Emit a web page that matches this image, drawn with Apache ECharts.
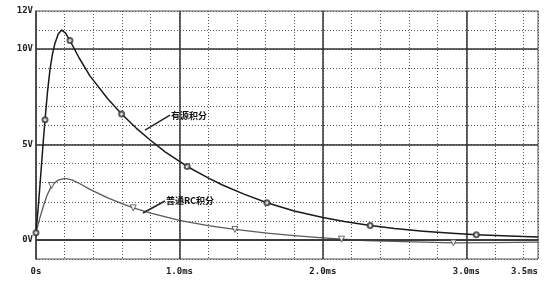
<!DOCTYPE html>
<html><head><meta charset="utf-8">
<script src="https://cdn.jsdelivr.net/npm/echarts@6/dist/echarts.min.js"></script>
<style>html,body{margin:0;padding:0;background:#fff}#c{width:548px;height:291px}</style>
</head><body><div id="c"></div>
<script>
// time in ms, voltage in V
const upperT = [0, 0.016, 0.035, 0.051, 0.063, 0.08, 0.098, 0.115, 0.132, 0.155, 0.179, 0.205, 0.237, 0.3, 0.376, 0.5, 0.597, 0.7, 0.794, 0.9, 1.054, 1.2, 1.3, 1.45, 1.61, 1.8, 2.0, 2.15, 2.33, 2.5, 2.7, 2.9, 3.07, 3.3, 3.5];
const upperV = [0.38, 1.74, 3.6, 5.2, 6.3, 7.75, 8.95, 9.75, 10.3, 10.8, 11.0, 10.85, 10.45, 9.55, 8.6, 7.4, 6.6, 5.85, 5.25, 4.62, 3.85, 3.25, 2.88, 2.4, 1.95, 1.52, 1.17, 0.96, 0.76, 0.6, 0.46, 0.35, 0.27, 0.2, 0.15];
const upperMarkIdx = [0, 4, 12, 16, 20, 24, 28, 32];

const lowerT = [0, 0.025, 0.05, 0.075, 0.109, 0.15, 0.202, 0.25, 0.3, 0.376, 0.5, 0.6, 0.678, 0.8, 1.0, 1.2, 1.387, 1.61, 1.8, 2.0, 2.13, 2.3, 2.5, 2.7, 2.91, 3.2, 3.5];
const lowerV = [0.38, 1.1, 1.74, 2.3, 2.85, 3.12, 3.23, 3.15, 2.97, 2.65, 2.2, 1.9, 1.68, 1.4, 1.02, 0.75, 0.55, 0.36, 0.23, 0.11, 0.04, -0.03, -0.08, -0.12, -0.15, -0.14, -0.12];
const lowerMarkIdx = [4, 12, 16, 20, 24];

const xTickValues = [0, 1, 2, 3, 3.5];
const xTickLabels = ['0s', '1.0ms', '2.0ms', '3.0ms', '3.5ms'];
const yTickValues = [0, 5, 10, 12];
const yTickLabels = ['0V', '5V', '10V', '12V'];
const majorX = [1, 2, 3];
const majorY = [0, 5, 10];

const upperName = '有源积分';
const lowerName = '普通RC积分';
const upperPointer = [[0.76, 5.76], [0.934, 6.54]];
const lowerPointer = [[0.746, 1.41], [0.899, 2.04]];

function lookup(vals, labs, v) {
  for (let i = 0; i < vals.length; i++) if (Math.abs(v - vals[i]) < 1e-6) return labs[i];
  return '';
}
const pair = (T, V) => T.map((t, i) => [t, V[i]]);

const fontFam = '"DejaVu Sans Mono", monospace';
const chart = echarts.init(document.getElementById('c'), null, {renderer: 'canvas'});
chart.setOption({
  animation: false,
  backgroundColor: '#fff',
  grid: {left: 36, right: 10, top: 11, bottom: 32, show: true, borderColor: '#555', borderWidth: 1},
  xAxis: {
    type: 'value', min: 0, max: 3.5, interval: 0.2,
    axisLine: {show: true, lineStyle: {color: '#333', width: 1.5}},
    axisTick: {show: false},
    splitLine: {show: true, lineStyle: {color: '#555', type: [1, 2], width: 1}},
    axisLabel: {interval: 0, margin: 8, color: '#222', fontFamily: fontFam, fontSize: 9, fontWeight: 'bold',
      alignMaxLabel: 'right', showMaxLabel: true,
      formatter: v => lookup(xTickValues, xTickLabels, v)}
  },
  yAxis: {
    type: 'value', min: -1, max: 12, interval: 1,
    axisLine: {show: true, lineStyle: {color: '#333', width: 1.5}},
    axisTick: {show: false},
    splitLine: {show: true, lineStyle: {color: '#555', type: [1, 2], width: 1}},
    axisLabel: {margin: 3, color: '#222', fontFamily: fontFam, fontSize: 9, fontWeight: 'bold',
      formatter: v => lookup(yTickValues, yTickLabels, v)}
  },
  series: [
    {
      type: 'line', data: [], silent: true,
      markLine: {
        silent: true, symbol: 'none', label: {show: false},
        lineStyle: {color: '#333', type: 'solid', width: 1.5},
        data: majorY.map(v => ({yAxis: v})).concat(majorX.map(v => ({xAxis: v})))
      }
    },
    {
      name: upperName, type: 'line', data: pair(upperT, upperV), smooth: false,
      showSymbol: false, lineStyle: {color: '#1a1a1a', width: 1.5, join: 'round'}, z: 5,
      markLine: {
        silent: true, symbol: 'none', label: {show: false},
        lineStyle: {color: '#222', type: 'solid', width: 1.5},
        data: [[{coord: upperPointer[0]}, {coord: upperPointer[1]}]]
      },
      markPoint: {
        symbol: 'circle', symbolSize: 0,
        label: {show: true, position: 'right', distance: 1, formatter: upperName,
          color: '#111', fontSize: 9, fontWeight: 'bold', fontFamily: '"Noto Sans CJK SC", sans-serif'},
        data: [{coord: upperPointer[1]}]
      }
    },
    {
      name: lowerName, type: 'line', data: pair(lowerT, lowerV), smooth: false,
      showSymbol: false, lineStyle: {color: '#5a5a5a', width: 1.3, join: 'round'}, z: 4,
      markLine: {
        silent: true, symbol: 'none', label: {show: false},
        lineStyle: {color: '#222', type: 'solid', width: 1.5},
        data: [[{coord: lowerPointer[0]}, {coord: lowerPointer[1]}]]
      },
      markPoint: {
        symbol: 'circle', symbolSize: 0,
        label: {show: true, position: 'right', distance: 1, formatter: lowerName,
          color: '#111', fontSize: 9, fontWeight: 'bold', fontFamily: '"Noto Sans CJK SC", sans-serif'},
        data: [{coord: lowerPointer[1]}]
      }
    },
    {
      type: 'scatter', data: upperMarkIdx.map(i => [upperT[i], upperV[i]]),
      symbol: 'emptyCircle', symbolSize: 5, itemStyle: {color: '#333', borderWidth: 1}, z: 6
    },
    {
      type: 'scatter', data: lowerMarkIdx.map(i => [lowerT[i], lowerV[i]]),
      symbol: 'triangle', symbolRotate: 180, symbolSize: 6, itemStyle: {color: '#fff', borderColor: '#444', borderWidth: 1}, z: 6
    }
  ]
});
</script></body></html>
